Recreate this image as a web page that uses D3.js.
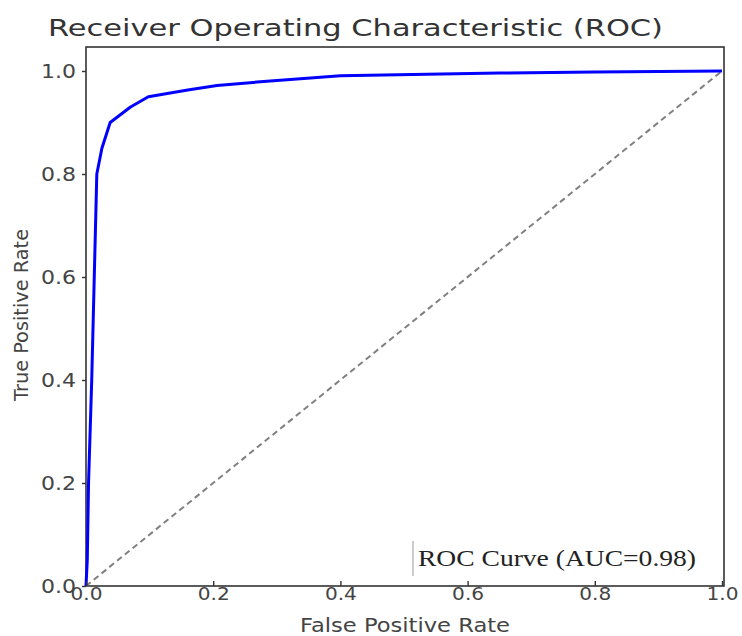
<!DOCTYPE html>
<html>
<head>
<meta charset="utf-8">
<script src="https://cdn.jsdelivr.net/npm/d3@7"></script>
<style>
  html, body { margin: 0; padding: 0; background: #fff; }
  svg { display: block; }
</style>
</head>
<body>
<svg id="chart" width="742" height="636"></svg>
<script>
// ---- data ----
const fpr = [0, 0.002, 0.004, 0.009, 0.013, 0.017, 0.025, 0.038, 0.07, 0.098, 0.16, 0.206, 0.274, 0.40, 0.65, 0.8, 1.0];
const tpr = [0, 0.05, 0.20, 0.40, 0.60, 0.80, 0.85, 0.90, 0.93, 0.95, 0.963, 0.972, 0.979, 0.991, 0.996, 0.998, 1.0];
const chanceX = [0, 1];
const chanceY = [0, 1];
const xTicks = [0, 0.2, 0.4, 0.6, 0.8, 1.0];
const yTicks = [0, 0.2, 0.4, 0.6, 0.8, 1.0];
const titleText = "Receiver Operating Characteristic (ROC)";
const xLabel = "False Positive Rate";
const yLabel = "True Positive Rate";
const legendText = "ROC Curve (AUC=0.98)";

const svg = d3.select("#chart");

const x = d3.scaleLinear().domain([0, 1]).range([86, 722]);
const y = d3.scaleLinear().domain([0, 1]).range([586, 71]);

const frame = { left: 86, right: 724, top: 47, bottom: 586 };

// frame (spines)
svg.append("rect")
  .attr("x", frame.left).attr("y", frame.top)
  .attr("width", frame.right - frame.left).attr("height", frame.bottom - frame.top)
  .attr("fill", "none").attr("stroke", "#333").attr("stroke-width", 1.6);

// chance diagonal
const chance = chanceX.map((d, i) => [d, chanceY[i]]);
svg.append("path")
  .datum(chance)
  .attr("d", d3.line().x(d => x(d[0])).y(d => y(d[1])))
  .attr("fill", "none").attr("stroke", "#808080").attr("stroke-width", 2)
  .attr("stroke-dasharray", "6,4");

// ROC curve
const roc = fpr.map((d, i) => [d, tpr[i]]);
svg.append("path")
  .datum(roc)
  .attr("d", d3.line().x(d => x(d[0])).y(d => y(d[1])))
  .attr("fill", "none").attr("stroke", "#0000ff").attr("stroke-width", 3)
  .attr("stroke-linejoin", "round");

// x axis
const xAxis = svg.append("g")
  .attr("transform", `translate(0,${frame.bottom})`)
  .call(d3.axisBottom(x).tickValues(xTicks).tickFormat(d3.format(".1f")).tickSizeInner(-5).tickSizeOuter(0).tickPadding(8));
xAxis.select(".domain").remove();
xAxis.selectAll(".tick line").attr("stroke", "#333").attr("stroke-width", 1.4);
xAxis.selectAll(".tick text")
  .attr("font-family", "DejaVu Sans, sans-serif").attr("font-size", 18)
  .attr("fill", "#444").attr("dy", "0.35em")
  .attr("textLength", 32).attr("lengthAdjust", "spacingAndGlyphs");

// y axis
const yAxis = svg.append("g")
  .attr("transform", `translate(${frame.left},0)`)
  .call(d3.axisLeft(y).tickValues(yTicks).tickFormat(d3.format(".1f")).tickSizeInner(4).tickSizeOuter(0).tickPadding(6));
yAxis.select(".domain").remove();
yAxis.selectAll(".tick line").attr("stroke", "#333").attr("stroke-width", 1.4);
yAxis.selectAll(".tick text")
  .attr("font-family", "DejaVu Sans, sans-serif").attr("font-size", 19)
  .attr("fill", "#444")
  .attr("textLength", 35).attr("lengthAdjust", "spacingAndGlyphs");

// title
svg.append("text")
  .attr("x", 48).attr("y", 36)
  .attr("font-family", "DejaVu Sans, sans-serif").attr("font-size", 23)
  .attr("fill", "#333")
  .attr("textLength", 615).attr("lengthAdjust", "spacingAndGlyphs")
  .text(titleText);

// axis labels
svg.append("text")
  .attr("x", 405).attr("y", 632)
  .attr("text-anchor", "middle")
  .attr("font-family", "DejaVu Sans, sans-serif").attr("font-size", 20)
  .attr("fill", "#444")
  .attr("textLength", 210).attr("lengthAdjust", "spacingAndGlyphs")
  .text(xLabel);

svg.append("text")
  .attr("transform", `translate(28,315) rotate(-90)`)
  .attr("text-anchor", "middle")
  .attr("font-family", "DejaVu Sans, sans-serif").attr("font-size", 19)
  .attr("fill", "#444")
  .attr("textLength", 172).attr("lengthAdjust", "spacingAndGlyphs")
  .text(yLabel);

// legend
svg.append("line")
  .attr("x1", 413).attr("x2", 413).attr("y1", 541).attr("y2", 576)
  .attr("stroke", "#ccc").attr("stroke-width", 2);
svg.append("text")
  .attr("x", 418).attr("y", 566)
  .attr("font-family", "Liberation Serif, Times New Roman, serif").attr("font-size", 24)
  .attr("fill", "#222")
  .attr("textLength", 278).attr("lengthAdjust", "spacingAndGlyphs")
  .text(legendText);
</script>
</body>
</html>
